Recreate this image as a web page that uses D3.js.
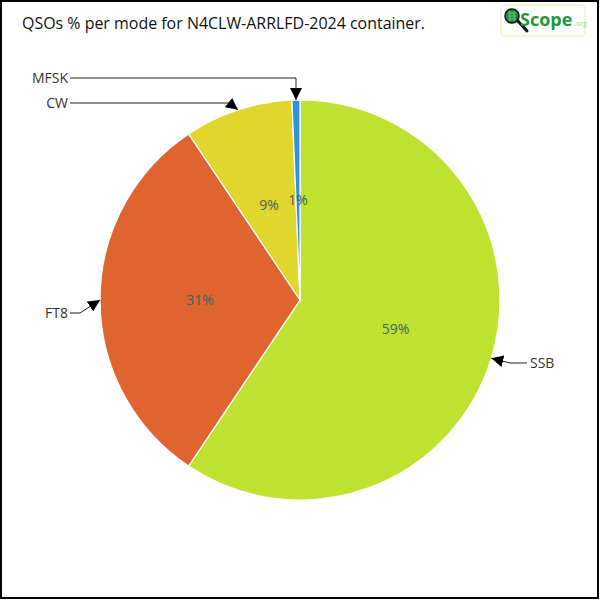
<!DOCTYPE html>
<html><head><meta charset="utf-8">
<script src="https://cdn.jsdelivr.net/npm/d3@7"></script>
<style>body{margin:0;background:#fff;} text{font-family:"Open Sans","Noto Sans",sans-serif;}</style>
</head><body>
<svg id="c" width="600" height="600"></svg>
<script>
const title = "QSOs % per mode for N4CLW-ARRLFD-2024 container.";
const modes = ["SSB", "FT8", "CW", "MFSK"];
const shares = [59.4, 31.2, 8.76, 0.64];
const pctLabels = ["59%", "31%", "9%", "1%"];
const colors = ["#bee22f", "#e0642f", "#e0d62e", "#2e94e0"];

const svg = d3.select("#c");
svg.append("rect").attr("x",1).attr("y",1).attr("width",597).attr("height",597)
  .attr("fill","#fff").attr("stroke","#000").attr("stroke-width",2);

svg.append("text").attr("x",22).attr("y",29).attr("font-size",16.5)
  .attr("font-family","'DejaVu Sans'").attr("fill","#111")
  .attr("textLength",403).attr("lengthAdjust","spacingAndGlyphs").text(title);

// logo
const lg = svg.append("g");
lg.append("rect").attr("x",501).attr("y",5).attr("width",84).attr("height",31).attr("rx",4)
  .attr("fill","#fff").attr("stroke","#eef3c8").attr("stroke-width",1.5);
lg.append("line").attr("x1",517).attr("y1",20).attr("x2",527).attr("y2",31).attr("stroke","#111").attr("stroke-width",3).attr("stroke-linecap","round");
lg.append("circle").attr("cx",512).attr("cy",16).attr("r",7).attr("fill","#1c8a3c").attr("stroke","#111").attr("stroke-width",1.5);
lg.append("path").attr("d","M508,13H516M508,16H516M508,19H516M510,11V21M514,11V21").attr("stroke","#7fd08a").attr("stroke-width",0.8);
const lt = lg.append("text").attr("x",520).attr("y",26)
  .attr("font-family","'Liberation Sans Narrow','DejaVu Sans Condensed',sans-serif");
lt.append("tspan").attr("font-size",18).attr("font-weight","bold").attr("fill","#1f9a3a").text("Scope");
lt.append("tspan").attr("dx",2).attr("font-size",7).attr("fill","#9ad28a").text(".org");

const cx = 300, cy = 300, R = 200;
const g = svg.append("g").attr("transform",`translate(${cx},${cy})`);
const data = modes.map((m,i)=>({mode:m, v:shares[i], lab:pctLabels[i], col:colors[i]}));
const pie = d3.pie().value(d=>d.v).sort(null);
const arcs = pie(data);
const arc = d3.arc().innerRadius(0).outerRadius(R);
g.selectAll("path.s").data(arcs).join("path").attr("class","s")
  .attr("d",arc).attr("fill",d=>d.data.col).attr("stroke","#fff").attr("stroke-width",1.2);

const mid = d => (d.startAngle+d.endAngle)/2;
g.selectAll("text.p").data(arcs).join("text").attr("class","p")
  .attr("x",d=>Math.sin(mid(d))*R/2).attr("y",d=>-Math.cos(mid(d))*R/2)
  .attr("text-anchor","middle").attr("dy","0.35em").attr("font-size",14)
  .attr("fill","#3c6262").text(d=>d.data.lab);

const callouts = {
  SSB:  {elbow:[510,363], end:[527,363], anchor:"start"},
  FT8:  {elbow:[80,313], end:[70,313], anchor:"end"},
  CW:   {elbow:[229,103], end:[70,103], anchor:"end"},
  MFSK: {elbow:[296,78], end:[70,78], anchor:"end"}
};
svg.append("defs").append("marker").attr("id","ah").attr("viewBox","0 0 10 10")
  .attr("refX",10).attr("refY",5).attr("markerWidth",12).attr("markerHeight",12)
  .attr("markerUnits","userSpaceOnUse").attr("orient","auto")
  .append("path").attr("d","M0,0L10,5L0,10Z").attr("fill","#000");
arcs.forEach(d=>{
  const c = callouts[d.data.mode];
  const a = mid(d);
  const tip = [cx+Math.sin(a)*R, cy-Math.cos(a)*R];
  svg.append("path").attr("d",`M${c.end[0]},${c.end[1]}L${c.elbow[0]},${c.elbow[1]}L${tip[0]},${tip[1]}`)
    .attr("fill","none").attr("stroke","#222").attr("stroke-width",1).attr("marker-end","url(#ah)");
  svg.append("text").attr("x",c.anchor==="start"?c.end[0]+3:c.end[0]-2).attr("y",c.end[1])
    .attr("dy","0.35em").attr("text-anchor",c.anchor).attr("font-size",14).attr("fill","#333")
    .text(d.data.mode);
});
</script>
</body></html>
